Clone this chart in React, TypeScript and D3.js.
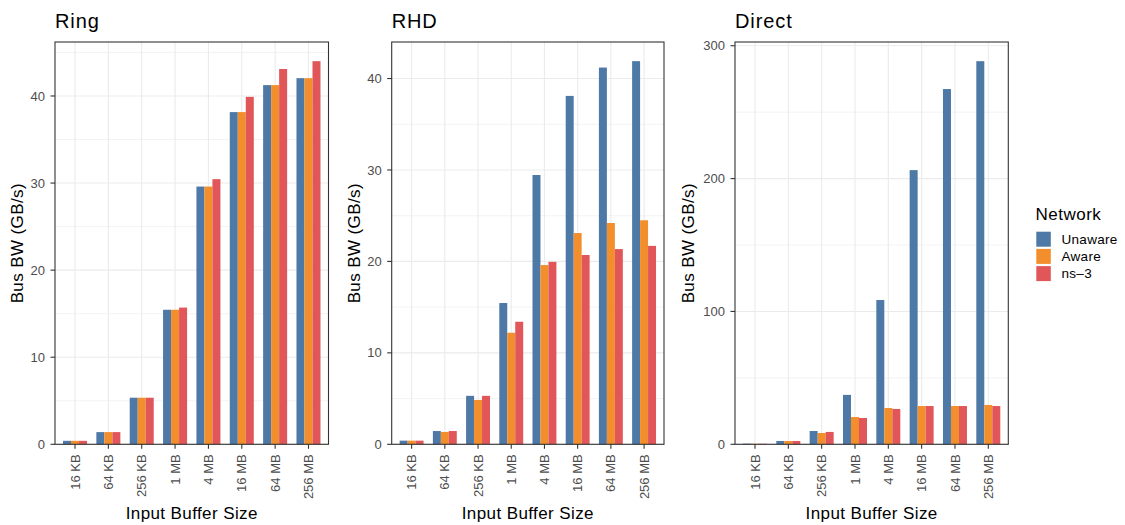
import React from "react";
import * as d3 from "d3";

const categories = ["16 KB", "64 KB", "256 KB", "1 MB", "4 MB", "16 MB", "64 MB", "256 MB"];
const seriesNames = ["Unaware", "Aware", "ns\u20133"];
const colors = ["#4E79A7", "#F28E2B", "#E15759"];

const ringUnaware = [0.4, 1.4, 5.35, 15.45, 29.6, 38.15, 41.25, 42.05];
const ringAware = [0.4, 1.4, 5.35, 15.45, 29.6, 38.15, 41.25, 42.05];
const ringNs3 = [0.4, 1.4, 5.35, 15.7, 30.45, 39.9, 43.1, 44.0];

const rhdUnaware = [0.4, 1.45, 5.3, 15.45, 29.45, 38.1, 41.2, 41.9];
const rhdAware = [0.4, 1.35, 4.85, 12.2, 19.6, 23.1, 24.2, 24.5];
const rhdNs3 = [0.4, 1.45, 5.3, 13.4, 19.95, 20.7, 21.35, 21.7];

const directUnaware = [0.5, 2.5, 10.0, 37.2, 108.6, 206.4, 267.4, 288.4];
const directAware = [0.4, 2.5, 8.5, 20.5, 27.3, 28.8, 28.8, 29.6];
const directNs3 = [0.4, 2.5, 9.3, 19.8, 26.6, 28.8, 28.8, 28.8];

const ringTicks = [0, 10, 20, 30, 40];
const rhdTicks = [0, 10, 20, 30, 40];
const directTicks = [0, 100, 200, 300];

const FONT = "'Liberation Sans', Arial, Helvetica, sans-serif";

type PanelProps = {
  title: string;
  left: number;
  right: number;
  series: number[][];
  ticks: number[];
};

const TOP = 42;
const BOTTOM = 444.3;

function Panel({ title, left, right, series, ticks }: PanelProps) {
  const maxV = d3.max(series.flat()) as number;
  const y = d3.scaleLinear().domain([0, maxV * 1.05]).range([BOTTOM, TOP]);
  const x = d3.scaleBand<string>().domain(categories).range([left, right]).paddingInner(0).paddingOuter(0.1);
  const step = x.step();
  const groupW = step * 0.72;
  const xs = d3.scaleBand<number>().domain(d3.range(seriesNames.length)).range([-groupW / 2, groupW / 2]);
  const tickStep = ticks[1] - ticks[0];
  const minor = ticks.map((t) => t + tickStep / 2).filter((t) => y(t) >= TOP);
  const cx = (c: string) => (x(c) as number) + x.bandwidth() / 2;
  const wide = ticks[ticks.length - 1] >= 100;
  return (
    <g>
      <text x={left} y={27.5} fontSize={20} letterSpacing={0.9} fontFamily={FONT} fill="#000">{title}</text>
      {minor.map((t) => (
        <line key={"m" + t} x1={left} x2={right} y1={y(t)} y2={y(t)} stroke="#EBEBEB" strokeWidth={0.6} />
      ))}
      {ticks.map((t) => (
        <line key={"g" + t} x1={left} x2={right} y1={y(t)} y2={y(t)} stroke="#EBEBEB" strokeWidth={1.1} />
      ))}
      {categories.map((c) => (
        <line key={"v" + c} x1={cx(c)} x2={cx(c)} y1={TOP} y2={BOTTOM} stroke="#EBEBEB" strokeWidth={1.1} />
      ))}
      {series.map((vals, si) =>
        vals.map((v, ci) => (
          <rect
            key={si + "-" + ci}
            x={cx(categories[ci]) + (xs(si) as number)}
            y={y(v)}
            width={xs.bandwidth()}
            height={BOTTOM - y(v)}
            fill={colors[si]}
          />
        ))
      )}
      <rect x={left} y={TOP} width={right - left} height={BOTTOM - TOP} fill="none" stroke="#333333" strokeWidth={1.1} />
      {ticks.map((t) => (
        <g key={"t" + t}>
          <line x1={left - 4.5} x2={left} y1={y(t)} y2={y(t)} stroke="#333333" strokeWidth={1.1} />
          <text x={left - 10} y={y(t)} dy="0.35em" textAnchor="end" fontSize={13} fontFamily={FONT} fill="#4D4D4D">{t}</text>
        </g>
      ))}
      {categories.map((c) => (
        <g key={"xt" + c}>
          <line x1={cx(c)} x2={cx(c)} y1={BOTTOM} y2={BOTTOM + 4.5} stroke="#333333" strokeWidth={1.1} />
          <text
            transform={`translate(${cx(c)},${BOTTOM + 10}) rotate(-90)`}
            dy="0.35em"
            textAnchor="end"
            fontSize={13}
            fontFamily={FONT}
            fill="#4D4D4D"
          >{c}</text>
        </g>
      ))}
      <text x={(left + right) / 2} y={519} textAnchor="middle" fontSize={17} letterSpacing={0.4} fontFamily={FONT} fill="#000">Input Buffer Size</text>
      <text
        transform={`translate(${left - (wide ? 41 : 32)},${(TOP + BOTTOM) / 2}) rotate(-90)`}
        textAnchor="middle"
        fontSize={17}
        letterSpacing={0.4}
        fontFamily={FONT}
        fill="#000"
      >Bus BW (GB/s)</text>
    </g>
  );
}

export default function App() {
  return (
    <svg width={1125} height={525} style={{ position: "absolute", left: 0, top: 0, background: "#fff" }}>
      <rect width={1125} height={525} fill="#fff" />
      <Panel title="Ring" left={55} right={328.5} series={[ringUnaware, ringAware, ringNs3]} ticks={ringTicks} />
      <Panel title="RHD" left={391.7} right={664} series={[rhdUnaware, rhdAware, rhdNs3]} ticks={rhdTicks} />
      <Panel title="Direct" left={735} right={1008.3} series={[directUnaware, directAware, directNs3]} ticks={directTicks} />
      <g>
        <text x={1035.5} y={220} fontSize={17} letterSpacing={0.5} fontFamily={FONT} fill="#000">Network</text>
        {seriesNames.map((s, i) => (
          <g key={s}>
            <rect x={1036.3} y={231.7 + i * 17.2} width={14.5} height={15} fill={colors[i]} />
            <text x={1061.5} y={231.7 + i * 17.2 + 7.5} dy="0.35em" fontSize={13.5} letterSpacing={0.3} fontFamily={FONT} fill="#000">{s}</text>
          </g>
        ))}
      </g>
    </svg>
  );
}
